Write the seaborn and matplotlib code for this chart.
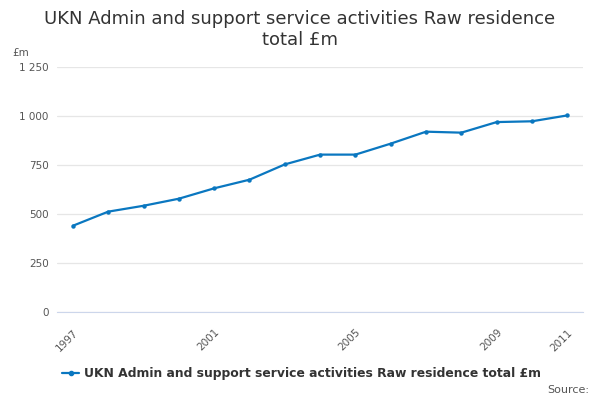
import matplotlib
matplotlib.use("Agg")
import matplotlib.pyplot as plt
import seaborn as sns
import pandas as pd
from matplotlib.lines import Line2D

years = list(range(1997, 2012))
values = [440, 512, 542, 578, 631, 675, 753, 803, 803, 859, 920, 915, 969, 973, 1003]
ytick_vals = [0, 250, 500, 750, 1000, 1250]
ytick_labels = ["0", "250", "500", "750", "1 000", "1 250"]
xlabel_years = [1997, 2001, 2005, 2009, 2011]
series_name = "UKN Admin and support service activities Raw residence total £m"

df = pd.DataFrame({"year": years, "value": values})

sns.set_style("white")
plt.rcParams['font.family'] = ['DejaVu Sans']

fig = plt.figure(figsize=(6, 4), dpi=100)
ax = fig.add_axes([0.095, 0.22, 0.877, 0.6125])
color = "#0a77c0"
sns.lineplot(data=df, x="year", y="value", ax=ax, color=color, linewidth=1.6,
             marker="o", markersize=3.2, markeredgewidth=0)

ax.set_ylim(0, 1250)
ax.set_xlim(1996.55, 2011.45)
ax.set_yticks(ytick_vals)
ax.set_yticklabels(ytick_labels, fontsize=7.5, color="#555555")
ax.yaxis.grid(True, color="#e6e6e6", linewidth=0.9)
ax.set_axisbelow(True)
ax.set_xticks(years, minor=True)
ax.set_xticks(xlabel_years)
ax.set_xticklabels([str(y) for y in xlabel_years], rotation=45, ha="right",
                   rotation_mode="anchor", fontsize=7.5, color="#555555")
ax.tick_params(axis="x", which="both", direction="out", length=9, width=0.8,
               color="#ccd6eb", pad=2)
ax.tick_params(axis="y", length=0, pad=6)
for s in ["top", "right", "left"]:
    ax.spines[s].set_visible(False)
ax.spines["bottom"].set_color("#ccd6eb")
ax.set_xlabel("")
ax.set_ylabel("")

fig.text(0.5, 0.975, "UKN Admin and support service activities Raw residence\ntotal £m",
         ha="center", va="top", fontsize=13, color="#333333", linespacing=1.2)
fig.text(0.02, 0.855, "£m", fontsize=7.5, color="#555555", ha="left", va="bottom")

handle = Line2D([0], [0], color=color, linewidth=1.6, marker="o", markersize=3)
leg = fig.legend([handle], [series_name], loc="center left",
                 bbox_to_anchor=(0.085, 0.065), frameon=False,
                 prop={"weight": "bold", "size": 8.9}, handlelength=1.4,
                 handletextpad=0.4)
for t in leg.get_texts():
    t.set_color("#333333")
fig.text(0.982, 0.025, "Source:", fontsize=8, color="#555555", ha="right", va="center")

fig.savefig("out.png", dpi=100)
